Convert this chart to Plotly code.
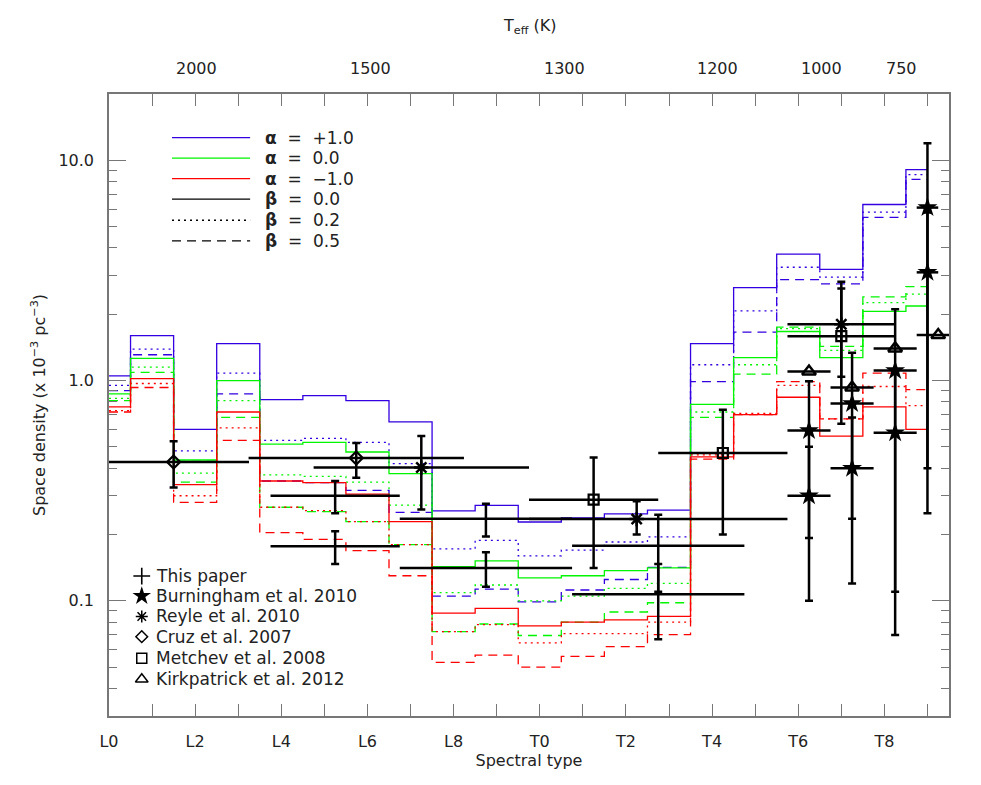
import numpy as np
import plotly.graph_objects as go

# spectral type bins: L0 ... T9 (numeric 0..19), histogram edges
bin_edges = [0, 0.5, 1.5, 2.5, 3.5, 4.5, 5.5, 6.5, 7.5, 8.5, 9.5,
             10.5, 11.5, 12.5, 13.5, 14.5, 15.5, 16.5, 17.5, 18.5, 19.0]

# model space densities (x 1e-3 pc^-3), one value per bin L0..T9
blue_b00 = [1.05, 1.60, 0.60, 1.47, 0.82, 0.855, 0.81, 0.65, 0.256, 0.271,
            0.228, 0.238, 0.248, 0.258, 1.47, 2.64, 3.75, 3.2, 6.3, 9.07]
blue_b02 = [0.95, 1.39, 0.48, 1.08, 0.535, 0.547, 0.524, 0.42, 0.172, 0.188,
            0.16, 0.17, 0.185, 0.195, 1.18, 2.07, 3.27, 2.95, 5.82, 8.61]
blue_b05 = [0.90, 1.31, 0.43, 0.87, 0.35, 0.344, 0.317, 0.252, 0.105, 0.113,
            0.099, 0.112, 0.125, 0.142, 0.99, 1.66, 2.87, 2.75, 5.51, 8.2]
green_b00 = [0.87, 1.26, 0.436, 1.0, 0.515, 0.524, 0.474, 0.378, 0.143, 0.152,
             0.127, 0.13, 0.137, 0.141, 0.78, 1.27, 1.67, 1.27, 2.06, 2.18]
green_b02 = [0.83, 1.15, 0.38, 0.81, 0.373, 0.367, 0.346, 0.272, 0.109, 0.118,
             0.10, 0.105, 0.114, 0.12, 0.72, 1.18, 1.72, 1.37, 2.26, 2.47]
green_b05 = [0.81, 1.09, 0.346, 0.68, 0.266, 0.254, 0.229, 0.18, 0.0725, 0.0785,
             0.0696, 0.08, 0.089, 0.098, 0.68, 1.07, 1.75, 1.43, 2.4, 2.67]
red_b00 = [0.76, 1.02, 0.337, 0.72, 0.35, 0.344, 0.305, 0.229, 0.088, 0.0925,
           0.077, 0.08, 0.082, 0.085, 0.45, 0.70, 0.84, 0.56, 0.76, 0.60]
red_b02 = [0.73, 0.97, 0.30, 0.61, 0.266, 0.257, 0.229, 0.18, 0.0725, 0.078,
           0.0645, 0.071, 0.071, 0.08, 0.46, 0.71, 0.95, 0.67, 0.94, 0.77]
red_b05 = [0.72, 0.93, 0.28, 0.535, 0.204, 0.19, 0.169, 0.13, 0.0525, 0.0567,
           0.05, 0.056, 0.062, 0.0703, 0.44, 0.70, 0.99, 0.67, 1.08, 0.91]

# observed densities
this_x = [5.25, 5.25, 8.75, 8.75, 12.75, 12.75]
this_xerr = [1.5, 1.5, 2.0, 2.0, 2.0, 2.0]
this_y = [0.30, 0.177, 0.236, 0.141, 0.178, 0.107]
this_yerr = [0.05, 0.03, 0.04, 0.025, 0.068, 0.04]

burn_x = [16.25, 16.25, 17.25, 17.25, 18.25, 18.25, 19.0, 19.0]
burn_xerr = [0.5, 0.5, 0.5, 0.5, 0.5, 0.5, 0.25, 0.25]
burn_y = [0.593, 0.30, 0.786, 0.40, 1.11, 0.58, 6.1, 3.1]
burn_yerr = [0.4, 0.2, 0.55, 0.28, 1.0, 0.51, 5.85, 2.7]

reyle_x = [7.25, 12.25, 17.0]
reyle_xlo = [2.5, 2.5, 1.25]
reyle_xhi = [2.5, 3.5, 1.25]
reyle_y = [0.403, 0.235, 1.80]
reyle_ylo = [0.26, 0.20, 1.04]
reyle_yhi = [0.56, 0.283, 2.62]

cruz_x = [1.5, 5.74]
cruz_xerr = [1.75, 2.5]
cruz_y = [0.427, 0.445]
cruz_ylo = [0.327, 0.362]
cruz_yhi = [0.53, 0.52]

metchev_x = [11.25, 14.25, 17.0]
metchev_xerr = [1.5, 1.5, 1.25]
metchev_y = [0.288, 0.469, 1.59]
metchev_ylo = [0.141, 0.20, 0.637]
metchev_yhi = [0.448, 0.738, 2.81]

kirk_x = [16.25, 17.25, 18.25, 19.25]
kirk_xerr = [0.5, 0.5, 0.5, 0.5]
kirk_y = [1.10, 0.93, 1.40, 1.61]

sptype_ticks = [0, 2, 4, 6, 8, 10, 12, 14, 16, 18]
sptype_labels = ["L0", "L2", "L4", "L6", "L8", "T0", "T2", "T4", "T6", "T8"]
sptype_minor = [1, 3, 5, 7, 9, 11, 13, 15, 17, 19]
teff_pos = [2.04, 6.07, 10.58, 14.13, 16.54, 18.4]
teff_labels = ["2000", "1500", "1300", "1200", "1000", "750"]

BLUE = "rgb(50,0,225)"
GREEN = "rgb(0,245,0)"
RED = "rgb(255,0,0)"
FONT = "DejaVu Sans"
TXT = "#222222"
AX = "#777777"

fig = go.Figure()


def hist(vals, color, dash):
    fig.add_trace(go.Scatter(x=bin_edges, y=list(vals) + [vals[-1]],
                             mode="lines", line=dict(color=color, width=1.3, dash=dash,
                                                     shape="hv"),
                             hoverinfo="skip"))


for vals, col, d in [(blue_b05, BLUE, "9px,6px"), (blue_b02, BLUE, "2px,4px"),
                     (blue_b00, BLUE, "solid"),
                     (green_b05, GREEN, "9px,6px"), (green_b02, GREEN, "2px,4px"),
                     (green_b00, GREEN, "solid"),
                     (red_b05, RED, "9px,6px"), (red_b02, RED, "2px,4px"),
                     (red_b00, RED, "solid")]:
    hist(vals, col, d)


def points(x, y, xlo, xhi, ylo=None, yhi=None, symbol=None, size=10, lw=2.0):
    ey = None
    if ylo is not None:
        ey = dict(type="data", symmetric=False, array=yhi, arrayminus=ylo,
                  color="black", thickness=2.5, width=4)
    ex = dict(type="data", symmetric=False, array=xhi, arrayminus=xlo,
              color="black", thickness=2.5, width=0)
    mk = dict(size=size, color="black", line=dict(color="black", width=lw))
    if symbol is None:
        mk = dict(size=1, color="rgba(0,0,0,0)")
    else:
        mk["symbol"] = symbol
    fig.add_trace(go.Scatter(x=x, y=y, mode="markers", marker=mk,
                             error_x=ex, error_y=ey, hoverinfo="skip"))


points(this_x, this_y, this_xerr, this_xerr, this_yerr, this_yerr)
points(burn_x, burn_y, burn_xerr, burn_xerr, burn_yerr, burn_yerr, "star", 15, 0)
points(reyle_x, reyle_y, reyle_xlo, reyle_xhi,
       [y - lo for y, lo in zip(reyle_y, reyle_ylo)],
       [hi - y for y, hi in zip(reyle_y, reyle_yhi)], "asterisk-open", 12, 2.5)
points(cruz_x, cruz_y, cruz_xerr, cruz_xerr,
       [y - lo for y, lo in zip(cruz_y, cruz_ylo)],
       [hi - y for y, hi in zip(cruz_y, cruz_yhi)], "diamond-open", 10, 2.2)
points(metchev_x, metchev_y, metchev_xerr, metchev_xerr,
       [y - lo for y, lo in zip(metchev_y, metchev_ylo)],
       [hi - y for y, hi in zip(metchev_y, metchev_yhi)], "square-open", 10, 2.2)
points(kirk_x, kirk_y, kirk_xerr, kirk_xerr, symbol="triangle-up-open", size=12, lw=2.5)

# top axis: Teff labels at their spectral-type positions
for xp, lab in zip(teff_pos, teff_labels):
    fig.add_annotation(x=xp, y=1, xref="x", yref="paper", yshift=26, text=lab,
                       showarrow=False, xanchor="center", yanchor="middle",
                       font=dict(family=FONT, size=16, color=TXT))
fig.add_annotation(x=0.5, y=1, xref="paper", yref="paper", yshift=68,
                   text="T<sub>eff</sub> (K)", showarrow=False,
                   xanchor="center", yanchor="middle",
                   font=dict(family=FONT, size=16, color=TXT))

# legends, drawn on an overlay axis spanning the plot area (0..1)
leg_rows = [0.930, 0.897, 0.864, 0.831, 0.797, 0.764]
leg_items = [(BLUE, "solid", "<b>α</b>\u00a0\u00a0=\u00a0\u00a0+1.0"),
             (GREEN, "solid", "<b>α</b>\u00a0\u00a0=\u00a0\u00a00.0"),
             (RED, "solid", "<b>α</b>\u00a0\u00a0=\u00a0\u00a0−1.0"),
             ("black", "solid", "<b>β</b>\u00a0\u00a0=\u00a0\u00a00.0"),
             ("black", "2px,4px", "<b>β</b>\u00a0\u00a0=\u00a0\u00a00.2"),
             ("black", "9px,6px", "<b>β</b>\u00a0\u00a0=\u00a0\u00a00.5")]
for yy, (col, d, txt) in zip(leg_rows, leg_items):
    fig.add_trace(go.Scatter(x=[0.075, 0.168], y=[yy, yy], xaxis="x3", yaxis="y3",
                             mode="lines", line=dict(color=col, width=1.3, dash=d),
                             hoverinfo="skip"))
    fig.add_annotation(x=0.183, y=yy, xref="paper", yref="paper", text=txt,
                       showarrow=False, xanchor="left", yanchor="middle",
                       font=dict(family=FONT, size=17, color=TXT))

sym_rows = [0.225, 0.193, 0.160, 0.1275, 0.093, 0.059]
sym_items = [("cross-thin-open", 12, 1.6, "This paper"),
             ("star", 14, 0, "Burningham et al. 2010"),
             ("asterisk-open", 10, 1.5, "Reyle et al. 2010"),
             ("diamond-open", 9, 1.5, "Cruz et al. 2007"),
             ("square-open", 10, 1.5, "Metchev et al. 2008"),
             ("triangle-up-open", 11, 1.5, "Kirkpatrick et al. 2012")]
for yy, (sym, sz, lw, txt) in zip(sym_rows, sym_items):
    fig.add_trace(go.Scatter(x=[0.039], y=[yy], xaxis="x3", yaxis="y3", mode="markers",
                             marker=dict(symbol=sym, size=sz, color="black",
                                         line=dict(color="black", width=lw)),
                             hoverinfo="skip"))
    fig.add_annotation(x=0.053, y=yy, xref="paper", yref="paper", text=txt,
                       showarrow=False, xanchor="left", yanchor="middle",
                       font=dict(family=FONT, size=17, color=TXT))

minor_vals = ([v * 0.01 for v in range(3, 10)] + [v * 0.1 for v in range(2, 10)] +
              [float(v) for v in range(2, 10)] + [20.0])

# the page body adds an 8px offset, margins are set to land the axes box
# where the reference has it
fig.update_layout(
    width=981, height=785,
    margin=dict(l=101, r=40, t=86, b=77, autoexpand=False),
    paper_bgcolor="white", plot_bgcolor="white",
    showlegend=False,
    font=dict(family=FONT, size=16, color=TXT),
    xaxis=dict(range=[0, 19.5], tickvals=sptype_ticks, ticktext=sptype_labels,
               ticks="inside", ticklen=12, tickwidth=1.2, tickcolor=AX,
               minor=dict(ticks="inside", ticklen=12, tickwidth=1.2, tickcolor=AX,
                          tickvals=sptype_minor),
               showline=True, linecolor=AX, linewidth=1.5, mirror="ticks",
               showgrid=False, zeroline=False, ticklabelstandoff=10,
               automargin=False,
               tickfont=dict(size=16, color=TXT),
               title=dict(text="Spectral type", standoff=2,
                          font=dict(size=16, color=TXT))),
    yaxis=dict(type="log", range=[np.log10(0.03), np.log10(20)],
               tickvals=[0.1, 1, 10], ticktext=["0.1", "1.0", "10.0"],
               ticks="inside", ticklen=17, tickwidth=1.2, tickcolor=AX,
               minor=dict(ticks="inside", ticklen=8, tickcolor=AX, tickwidth=1.2,
                          tickvals=minor_vals),
               showline=True, linecolor=AX, linewidth=1.5, mirror="ticks",
               showgrid=False, zeroline=False, ticklabelstandoff=10,
               automargin=False,
               tickfont=dict(size=16, color=TXT),
               title=dict(text="Space density (x 10<sup>−3</sup> pc<sup>−3</sup>)",
                          standoff=9, font=dict(size=16, color=TXT))),
    xaxis3=dict(range=[0, 1], overlaying="x", visible=False),
    yaxis3=dict(range=[0, 1], overlaying="y", visible=False),
)

fig.write_html("out.html")
